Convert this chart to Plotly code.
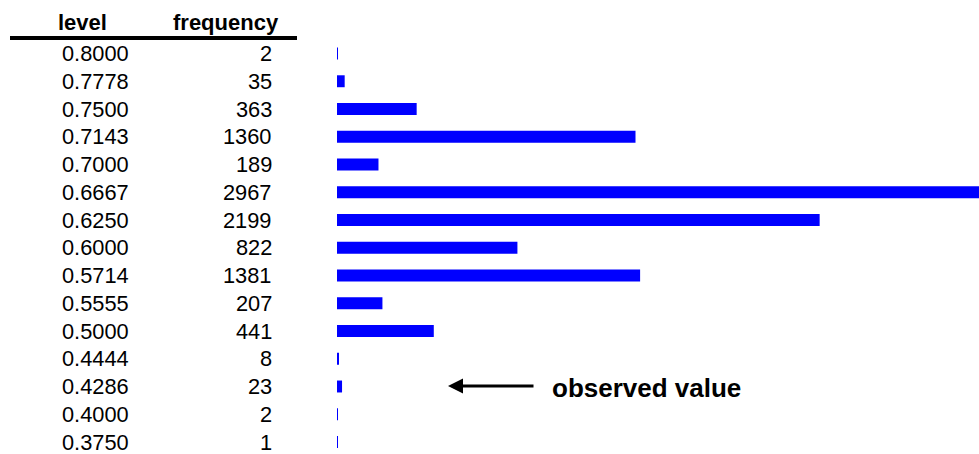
import plotly.graph_objects as go

levels = ["0.8000", "0.7778", "0.7500", "0.7143", "0.7000", "0.6667", "0.6250",
          "0.6000", "0.5714", "0.5555", "0.5000", "0.4444", "0.4286", "0.4000", "0.3750"]
frequency = [2, 35, 363, 1360, 189, 2967, 2199, 822, 1381, 207, 441, 8, 23, 2, 1]

W, H = 979, 454
FONT = "Liberation Sans, Arial, sans-serif"

rows = list(range(len(levels)))

fig = go.Figure()
fig.add_trace(go.Bar(
    x=frequency, y=rows, orientation="h",
    marker=dict(color="#0000FF", line=dict(width=0)),
    width=0.43, customdata=levels,
    hovertemplate="level %{customdata}: %{x}<extra></extra>",
))

row_px = 27.75
top_px = 53.5
r0 = -top_px / row_px
r1 = r0 + H / row_px

annotations = []
for i, (lv, fr) in enumerate(zip(levels, frequency)):
    annotations.append(dict(x=95 / W, xref="paper", y=i, yref="y", text=lv,
                            showarrow=False, xanchor="center", yanchor="middle",
                            font=dict(family=FONT, size=21.8, color="#000")))
    annotations.append(dict(x=274 / W, xref="paper", y=i, yref="y", text=str(fr),
                            showarrow=False, xanchor="right", yanchor="middle",
                            font=dict(family=FONT, size=21.8, color="#000")))

annotations.append(dict(x=82.5 / W, xref="paper", y=1 - 22 / H, yref="paper", text="<b>level</b>",
                        showarrow=False, xanchor="center", yanchor="middle",
                        font=dict(family=FONT, size=22, color="#000")))
annotations.append(dict(x=225.5 / W, xref="paper", y=1 - 22 / H, yref="paper", text="<b>frequency</b>",
                        showarrow=False, xanchor="center", yanchor="middle",
                        font=dict(family=FONT, size=22, color="#000")))
# arrow
annotations.append(dict(x=448 / W, xref="paper", y=1 - 386 / H, yref="paper",
                        ax=535 - 448, ay=0, axref="pixel", ayref="pixel",
                        text="", showarrow=True, arrowhead=2, arrowsize=1,
                        arrowwidth=3, arrowcolor="#000"))
annotations.append(dict(x=550 / W, xref="paper", y=1 - 388 / H, yref="paper",
                        text="<b>observed value</b>", showarrow=False,
                        xanchor="left", yanchor="middle",
                        font=dict(family=FONT, size=26, color="#000")))

fig.update_layout(
    width=W, height=H,
    margin=dict(l=0, r=0, t=0, b=0),
    paper_bgcolor="white", plot_bgcolor="white",
    showlegend=False,
    xaxis=dict(domain=[337 / W, 1], range=[0, 2925], visible=False, fixedrange=True),
    yaxis=dict(range=[r1, r0], visible=False, fixedrange=True),
    annotations=annotations,
    shapes=[dict(type="line", xref="paper", yref="paper",
                 x0=10 / W, x1=297 / W, y0=1 - 38 / H, y1=1 - 38 / H,
                 line=dict(color="#000", width=4))],
)

fig.write_html("out.html", config={"displayModeBar": False},
               post_script="document.body.style.margin='0';")
